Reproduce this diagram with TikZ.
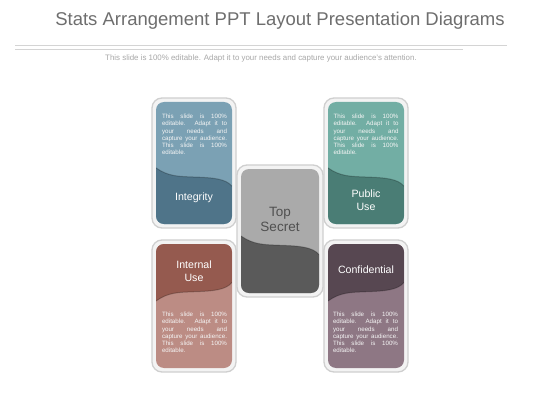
\documentclass[tikz,border=0pt]{standalone}
\usepackage{fontspec}
\setmainfont{Liberation Sans}
\usetikzlibrary{calc}
\definecolor{titlegray}{HTML}{6E6E6E}
\definecolor{subgray}{HTML}{A8A8A8}
\definecolor{rulegray}{HTML}{D4D4D4}
\definecolor{framefill}{HTML}{F3F3F3}
\definecolor{frameline}{HTML}{CFCFCF}
\definecolor{intL}{HTML}{7BA1B4}
\definecolor{intD}{HTML}{4F7489}
\definecolor{pubL}{HTML}{72AEA4}
\definecolor{pubD}{HTML}{4A7D75}
\definecolor{topL}{HTML}{AAAAAA}
\definecolor{topD}{HTML}{5A5A5A}
\definecolor{inuD}{HTML}{955A4F}
\definecolor{inuL}{HTML}{BC8C84}
\definecolor{conD}{HTML}{574751}
\definecolor{conL}{HTML}{8E7784}
\definecolor{topTxt}{HTML}{505050}
\tikzset{
  framestyle/.style={fill=framefill, draw=frameline, line width=1.3pt, rounded corners=10pt},
  bodytxt/.style={text=white!92!gray, font=\fontsize{6.2}{7.2}\selectfont, text width=65pt, align=justify, inner sep=0pt, anchor=north},
  lbl/.style={text=white, font=\fontsize{10.6}{13}\selectfont, align=center, inner sep=0pt},
  waveedge/.style={draw=black, opacity=0.22, line width=1pt}
}
\newcommand\bodytext{This slide is 100\%\linebreak editable. Adapt it to\linebreak your needs and\linebreak capture your audience.\linebreak This slide is 100\%\linebreak editable.}
% #1 x0, #2 y0, #3 w, #4 h, #5 light, #6 dark, #7 flip
\newcommand\statcard[7]{%
  \draw[framestyle] (#1-4,#2-4) rectangle (#1+#3+4,#2+#4+4);
  \fill[#5, rounded corners=8pt] (#1,#2) rectangle (#1+#3,#2+#4);
  \begin{scope}
    \clip[rounded corners=8pt] (#1,#2) rectangle (#1+#3,#2+#4);
    \ifnum#7=0
      \fill[#6] (#1,#2+0.54*#4) .. controls (#1+0.16*#3,#2+0.61*#4) and (#1+0.29*#3,#2+0.61*#4) .. (#1+0.5*#3,#2+0.615*#4) .. controls (#1+0.76*#3,#2+0.62*#4) and (#1+0.92*#3,#2+0.63*#4) .. (#1+#3,#2+0.69*#4) -- (#1+#3,#2+#4) -- (#1,#2+#4) -- cycle;
      \draw[waveedge] (#1,#2+0.54*#4) .. controls (#1+0.16*#3,#2+0.61*#4) and (#1+0.29*#3,#2+0.61*#4) .. (#1+0.5*#3,#2+0.615*#4) .. controls (#1+0.76*#3,#2+0.62*#4) and (#1+0.92*#3,#2+0.63*#4) .. (#1+#3,#2+0.69*#4);
    \else
      \fill[#6] (#1,#2+0.46*#4) .. controls (#1+0.16*#3,#2+0.39*#4) and (#1+0.29*#3,#2+0.39*#4) .. (#1+0.5*#3,#2+0.385*#4) .. controls (#1+0.76*#3,#2+0.38*#4) and (#1+0.92*#3,#2+0.37*#4) .. (#1+#3,#2+0.31*#4) -- (#1+#3,#2) -- (#1,#2) -- cycle;
      \draw[waveedge] (#1,#2+0.46*#4) .. controls (#1+0.16*#3,#2+0.39*#4) and (#1+0.29*#3,#2+0.39*#4) .. (#1+0.5*#3,#2+0.385*#4) .. controls (#1+0.76*#3,#2+0.38*#4) and (#1+0.92*#3,#2+0.37*#4) .. (#1+#3,#2+0.31*#4);
    \fi
  \end{scope}
}
\begin{document}
\begin{tikzpicture}[x=1pt,y=-1pt]
  \useasboundingbox[fill=white] (0,0) rectangle (560,420);
  % title and rules
  \node[text=titlegray, font=\fontsize{18.5}{22}\selectfont] (title) at (280,21) {Stats Arrangement PPT Layout Presentation Diagrams};
  \coordinate (r1a) at (15,45); \coordinate (r1b) at (507,45);
  \coordinate (r2a) at (15,49); \coordinate (r2b) at (463,49);
  \draw[rulegray, line width=0.8pt] (r1a) -- (r1b);
  \draw[rulegray, line width=0.8pt] (r2a) -- (r2b);
  \node[text=subgray, font=\fontsize{7.9}{9}\selectfont] (subtitle) at (261,58) {This slide is 100\% editable. Adapt it to your needs and capture your audience's attention.};
  % cards
  \statcard{156}{102}{76}{122}{intL}{intD}{0}
  \statcard{328}{102}{76}{122}{pubL}{pubD}{0}
  \statcard{241}{169}{78}{124}{topL}{topD}{0}
  \statcard{156}{244}{76}{124}{inuL}{inuD}{1}
  \statcard{328}{244}{76}{124}{conL}{conD}{1}
  % texts
  \node[bodytxt] (b1) at (194.5,114) {\bodytext};
  \node[lbl] (integrity) at (194,198) {Integrity};
  \node[bodytxt] (b2) at (366,114) {\bodytext};
  \node[lbl] (public) at (366,200.5) {Public\\Use};
  \node[lbl, text=topTxt, font=\fontsize{13.5}{15}\selectfont] (topsecret) at (280,219) {Top\\Secret};
  \node[lbl] (internal) at (194,271.5) {Internal\\Use};
  \node[bodytxt] (b3) at (194.5,312) {\bodytext};
  \node[lbl] (confidential) at (366,270) {Confidential};
  \node[bodytxt] (b4) at (365.5,312) {\bodytext};
\end{tikzpicture}
\end{document}
